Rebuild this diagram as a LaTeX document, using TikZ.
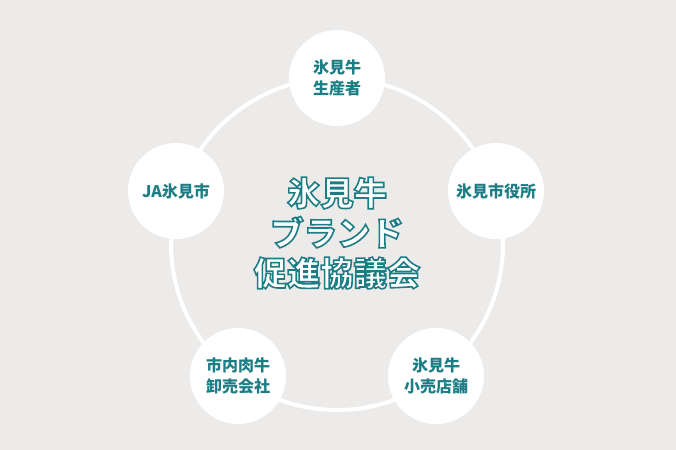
\documentclass[tikz,border=0pt]{standalone}
\usepackage{fontspec}
\setmainfont{Noto Sans CJK JP}

\definecolor{bgGrey}{HTML}{EDEBE9}
\definecolor{hmTeal}{HTML}{1D7D85}

% hollow teal-edged lettering for the council name
\newcommand{\hollowtext}[1]{%
    \special{pdf:literal direct 2 Tr 1.2 w 0.114 0.490 0.522 RG}#1%
    \special{pdf:literal direct 0 Tr}}

\begin{document}
\begin{tikzpicture}[x=0.75pt, y=-0.75pt,
    member/.style={circle, fill=white, minimum size=72pt, inner sep=0pt,
        text=hmTeal, align=center, font=\bfseries\fontsize{12}{15.5}\selectfont},
    council/.style={text=white, align=center, font=\bfseries\fontsize{25}{30}\selectfont}]
    % Background
    \fill[bgGrey] (0,0) rectangle (676,450);

    % Ring linking the members
    \draw[white, line width=3pt] (337,244) circle[radius=166];

    % Members
    \node[member] (producer) at (337,78) {氷見牛\\生産者};
    \node[member] (cityhall) at (496,191) {氷見市役所};
    \node[member] (retail) at (436,376) {氷見牛\\小売店舗};
    \node[member] (wholesale) at (238,376) {市内肉牛\\卸売会社};
    \node[member] (ja) at (176,191) {JA氷見市};

    % Council in the middle
    \node[council] (title) at (337,233)
        {\hollowtext{氷見牛}\\\hollowtext{ブランド}\\\hollowtext{促進協議会}};
\end{tikzpicture}
\end{document}
